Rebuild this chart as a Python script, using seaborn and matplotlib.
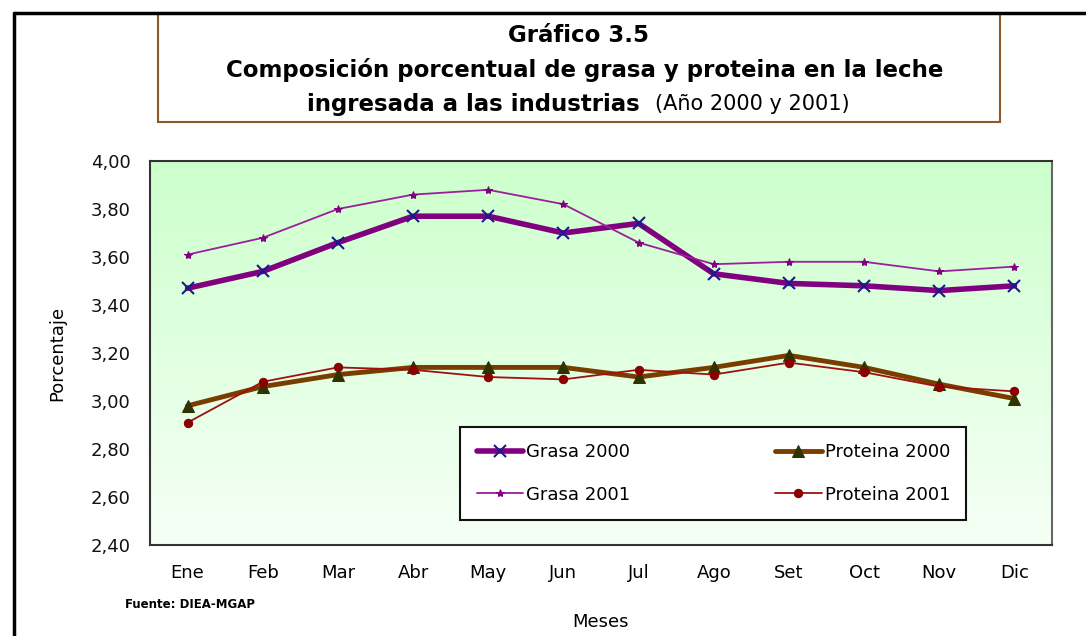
import numpy as np
import pandas as pd
import matplotlib
matplotlib.use("Agg")
import matplotlib.pyplot as plt
from matplotlib.colors import LinearSegmentedColormap
from matplotlib.lines import Line2D
from matplotlib.patches import Rectangle
from matplotlib.ticker import FuncFormatter, FixedLocator
import seaborn as sns

meses = ["Ene", "Feb", "Mar", "Abr", "May", "Jun",
         "Jul", "Ago", "Set", "Oct", "Nov", "Dic"]

grasa_2000 = [3.47, 3.54, 3.66, 3.77, 3.77, 3.70, 3.74, 3.53, 3.49, 3.48, 3.46, 3.48]
grasa_2001 = [3.61, 3.68, 3.80, 3.86, 3.88, 3.82, 3.66, 3.57, 3.58, 3.58, 3.54, 3.56]
proteina_2000 = [2.98, 3.06, 3.11, 3.14, 3.14, 3.14, 3.10, 3.14, 3.19, 3.14, 3.07, 3.01]
proteina_2001 = [2.91, 3.08, 3.14, 3.13, 3.10, 3.09, 3.13, 3.11, 3.16, 3.12, 3.06, 3.04]

y_ticks = [2.40, 2.60, 2.80, 3.00, 3.20, 3.40, 3.60, 3.80, 4.00]

sns.set_style("white")
plt.rcParams["font.family"] = ["DejaVu Sans"]
plt.rcParams["text.color"] = "black"
plt.rcParams["axes.labelcolor"] = "black"

fig = plt.figure(figsize=(10.86, 6.36), dpi=100)
ax = fig.add_axes([150 / 1086, 1 - 545 / 636, 902 / 1086, 384 / 636])

# gradient background (light green at top fading to white)
cmap = LinearSegmentedColormap.from_list("bg", ["#f6fff6", "#ccffcc"])
grad = np.linspace(0, 1, 256).reshape(-1, 1)
ax.imshow(grad, cmap=cmap, aspect="auto", origin="lower",
          extent=[-0.5, 11.5, 2.4, 4.0], zorder=0)

series = [
    ("Grasa 2000", grasa_2000, dict(color="#800080", linewidth=4.0, marker="x",
                                    markersize=8, markeredgewidth=1.5,
                                    markeredgecolor="#1a1a8c")),
    ("Grasa 2001", grasa_2001, dict(color="#9b1f9b", linewidth=1.3, marker="*",
                                    markersize=6, markeredgecolor="#800080",
                                    markerfacecolor="#800080")),
    ("Proteina 2000", proteina_2000, dict(color="#7a3d00", linewidth=3.5, marker="^",
                                          markersize=9, markeredgecolor="#2e3300",
                                          markerfacecolor="#2e3300")),
    ("Proteina 2001", proteina_2001, dict(color="#a01010", linewidth=1.3, marker="o",
                                          markersize=6, markeredgecolor="#8b0000",
                                          markerfacecolor="#8b0000")),
]

for name, vals, style in series:
    df = pd.DataFrame({"Mes": meses, "Valor": vals})
    sns.lineplot(data=df, x="Mes", y="Valor", ax=ax, label=name, sort=False,
                 zorder=3, **style)

ax.set_xlim(-0.5, 11.5)
ax.set_ylim(2.4, 4.0)
ax.set_yticks(y_ticks)
ax.yaxis.set_major_formatter(FuncFormatter(lambda v, p: f"{v:.2f}".replace(".", ",")))
ax.set_xticks(range(len(meses)))
ax.set_xticklabels(meses)
ax.xaxis.set_minor_locator(FixedLocator(np.arange(-0.5, 12, 1)))
ax.tick_params(axis="x", which="major", length=0, pad=14, labelsize=13, colors="black")
ax.tick_params(axis="x", which="minor", length=5, width=1.2, direction="out", color="#333333")
ax.tick_params(axis="y", length=0, pad=14, labelsize=13, colors="#111111")

for side in ["top", "left", "bottom"]:
    ax.spines[side].set_color("#333333")
    ax.spines[side].set_linewidth(1.5)
ax.spines["right"].set_color("#666666")
ax.spines["right"].set_linewidth(1.5)

ax.set_xlabel("Meses", fontsize=13, labelpad=22)
ax.set_ylabel("Porcentaje", fontsize=13)
ax.yaxis.set_label_coords(-84 / 902, 0.5)

leg = ax.legend(ncol=2, loc="lower left", mode="expand",
                bbox_to_anchor=(0.344, 0.065, 0.561, 0.242), borderaxespad=0,
                frameon=True, fancybox=False, edgecolor="#111111", facecolor="white",
                framealpha=1, fontsize=13, handlelength=2.6, handletextpad=0.15,
                borderpad=0.9, labelspacing=1.35)
leg.get_frame().set_linewidth(1.5)

# outer black frame
fig.add_artist(Line2D([14 / 1086, 1], [1 - 13 / 636, 1 - 13 / 636], color="black",
                      linewidth=2.5, transform=fig.transFigure))
fig.add_artist(Line2D([14 / 1086, 14 / 1086], [0, 1 - 13 / 636], color="black",
                      linewidth=2.5, transform=fig.transFigure))

# title box
fig.add_artist(Rectangle((158 / 1086, 1 - 122 / 636), 842 / 1086, 109 / 636,
                         transform=fig.transFigure, fill=False,
                         edgecolor="#8b5a2b", linewidth=1.5))
fig.text(578 / 1086, 1 - 36 / 636, "Gráfico 3.5", ha="center", va="center",
         fontsize=16.5, fontweight="bold")
fig.text(585 / 1086, 1 - 70 / 636, "Composición porcentual de grasa y proteina en la leche",
         ha="center", va="center", fontsize=16.5, fontweight="bold")
fig.text(640 / 1086, 1 - 104 / 636, "ingresada a las industrias", ha="right", va="center",
         fontsize=16.5, fontweight="bold")
fig.text(655 / 1086, 1 - 104 / 636, "(Año 2000 y 2001)", ha="left", va="center",
         fontsize=15)

fig.text(125 / 1086, 1 - 605 / 636, "Fuente: DIEA-MGAP", ha="left", va="center",
         fontsize=8.5, fontweight="bold")

fig.savefig("out.png", dpi=100)
